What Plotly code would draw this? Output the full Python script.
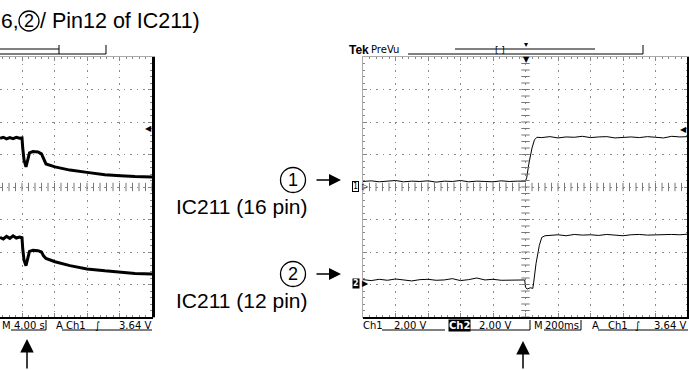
import plotly.graph_objects as go

W, H = 689, 370

# ---- data (scope divisions on y, time on x) ----
# left scope: 4.00 s/div, trigger drop near t = 0
left_t = [-2.7, -2.3, -1.9, -1.5, -1.1, -0.7, -0.3, 0.0, 0.09, 0.25, 0.49, 0.68, 0.92,
          1.35, 1.97, 2.4, 2.65, 2.95, 4.06, 5.9, 8.0, 10.2, 12.1, 13.9, 16.0]
left_ch1 = [1.5, 1.53, 1.48, 1.52, 1.49, 1.53, 1.5, 1.51, 1.2, 0.83, 0.62, 0.85, 1.05,
            1.09, 1.08, 1.02, 0.85, 0.71, 0.62, 0.52, 0.45, 0.38, 0.35, 0.32, 0.31]
left_ch2 = [-1.55, -1.6, -1.52, -1.58, -1.5, -1.57, -1.54, -1.56, -1.9, -2.25, -2.42, -2.2, -1.98,
            -1.95, -1.96, -2.0, -2.12, -2.2, -2.3, -2.42, -2.52, -2.58, -2.63, -2.66, -2.68]

# right scope: 200 ms/div, trigger at 0 ms
right_t1 = [-1000, -950, -900, -850, -800, -750, -700, -650, -600, -550, -500, -450, -400,
            -350, -300, -250, -200, -150, -100, -50, 0, 8, 20, 40, 55, 70, 100, 150, 200,
            250, 300, 350, 400, 450, 500, 550, 600, 650, 700, 750, 800, 850, 900, 950, 1000]
right_ch1 = [0.17, 0.19, 0.16, 0.18, 0.2, 0.16, 0.18, 0.17, 0.19, 0.15, 0.18, 0.17, 0.2,
             0.16, 0.18, 0.17, 0.16, 0.19, 0.17, 0.18, 0.18, 0.3, 0.7, 1.2, 1.45, 1.53, 1.52,
             1.55, 1.51, 1.54, 1.53, 1.56, 1.52, 1.54, 1.55, 1.51, 1.53, 1.54, 1.52, 1.55,
             1.53, 1.51, 1.56, 1.54, 1.55]
right_t2 = [-1000, -950, -900, -850, -800, -750, -700, -650, -600, -550, -500, -450, -400,
            -350, -300, -250, -200, -150, -100, -50, -5, 0, 10, 30, 45, 50, 65, 85, 100, 120,
            150, 200, 250, 300, 350, 400, 450, 500, 550, 600, 650, 700, 750, 800, 850, 900,
            950, 1000]
right_ch2 = [-2.85, -2.88, -2.84, -2.87, -2.83, -2.86, -2.89, -2.85, -2.84, -2.87, -2.86,
             -2.82, -2.88, -2.85, -2.8, -2.86, -2.84, -2.87, -2.86, -2.85, -2.86, -3.08, -3.14,
             -3.1, -3.12, -2.95, -2.35, -1.8, -1.55, -1.5, -1.49, -1.47, -1.5, -1.46, -1.48,
             -1.47, -1.49, -1.46, -1.48, -1.5, -1.47, -1.46, -1.48, -1.47, -1.45, -1.46,
             -1.47, -1.45]

left_status = ['M', '4.00 s', 'A', 'Ch1', '\u222b', '3.64 V']
right_status = ['Ch1', '2.00 V', 'Ch2', '2.00 V', 'M', '200ms', 'A', 'Ch1', '\u222b', '3.64 V']


def px(x):
    return x / W


def py(y):
    return 1 - y / H


fig = go.Figure()

fig.add_trace(go.Scatter(x=left_t, y=left_ch1, mode='lines', line=dict(color='black', width=3),
                         xaxis='x', yaxis='y'))
fig.add_trace(go.Scatter(x=left_t, y=left_ch2, mode='lines', line=dict(color='black', width=3),
                         xaxis='x', yaxis='y'))
fig.add_trace(go.Scatter(x=right_t1, y=right_ch1, mode='lines', line=dict(color='black', width=1),
                         xaxis='x2', yaxis='y2'))
fig.add_trace(go.Scatter(x=right_t2, y=right_ch2, mode='lines', line=dict(color='black', width=1),
                         xaxis='x2', yaxis='y2'))

# centre graticule ticks
fig.add_trace(go.Scatter(x=[-2.4 + 0.8 * i for i in range(24)], y=[0] * 24, mode='markers',
                         marker=dict(symbol='line-ns', size=6, line=dict(width=1, color='#777')),
                         xaxis='x', yaxis='y'))
fig.add_trace(go.Scatter(x=[-1000 + 40 * i for i in range(51)], y=[0] * 51, mode='markers',
                         marker=dict(symbol='line-ns', size=6, line=dict(width=1, color='#777')),
                         xaxis='x2', yaxis='y2'))
fig.add_trace(go.Scatter(x=[0] * 41, y=[-4 + 0.2 * i for i in range(41)], mode='markers',
                         marker=dict(symbol='line-ew', size=6, line=dict(width=1, color='#777')),
                         xaxis='x2', yaxis='y2'))

grid = dict(showgrid=True, gridcolor='#8a8a8a', griddash='1.5px,5px', gridwidth=1,
            zeroline=False, showticklabels=False, ticks='inside', ticklen=4, tickcolor='#888')
ydom = [py(317), py(57)]

fig.update_layout(
    width=W, height=H, margin=dict(l=0, r=0, t=0, b=0),
    paper_bgcolor='white', plot_bgcolor='white', showlegend=False,
    xaxis=dict(domain=[0, px(152)], range=[-2.708, 16], dtick=4, tick0=0, anchor='y',
               showline=True, linecolor='#aaa', mirror='ticks',
               minor=dict(ticks='inside', ticklen=2, dtick=0.8, tickcolor='#888', showgrid=False), **grid),
    yaxis=dict(domain=ydom, range=[-4, 4], dtick=1, anchor='x', side='right',
               showline=True, linecolor='black', linewidth=3,
               minor=dict(ticks='inside', ticklen=2, dtick=0.2, tickcolor='#888', showgrid=False), **grid),
    xaxis2=dict(domain=[px(363), px(688)], range=[-1000, 1000], dtick=200, anchor='y2',
                showline=True, linecolor='#aaa', mirror='ticks',
                minor=dict(ticks='inside', ticklen=2, dtick=40, tickcolor='#888', showgrid=False), **grid),
    yaxis2=dict(domain=ydom, range=[-4, 4], dtick=1, anchor='x2',
                showline=True, linecolor='#aaa', mirror='ticks',
                minor=dict(ticks='inside', ticklen=2, dtick=0.2, tickcolor='#888', showgrid=False), **grid),
)

shapes = []


def seg(x0, y0, x1, y1, w=1, color='black'):
    shapes.append(dict(type='line', xref='paper', yref='paper', x0=px(x0), y0=py(y0),
                       x1=px(x1), y1=py(y1), line=dict(color=color, width=w)))


def circ(cx, cy, r):
    shapes.append(dict(type='circle', xref='paper', yref='paper', x0=px(cx - r), x1=px(cx + r),
                       y0=py(cy + r), y1=py(cy - r), line=dict(color='black', width=1.3)))


# scope borders
seg(0, 318, 153, 318, 2)
seg(363, 318, 689, 318, 2)
seg(688, 57, 688, 318, 2)

# top bars
seg(0, 49, 59, 49)
seg(59, 45, 59, 54)
seg(0, 54, 106, 54)
seg(106, 45, 106, 54)
seg(408, 54, 643, 54)
seg(643, 45, 643, 54)
seg(455, 49, 595, 49)

# status underlines
seg(11, 330, 46, 330)
seg(46, 320, 46, 330)
seg(62, 330, 152, 330)
seg(382, 330, 445, 330)
seg(468, 330, 530, 330)
seg(530, 320, 530, 330)
seg(544, 330, 581, 330)
seg(581, 320, 581, 330)
seg(598, 330, 688, 330)

circ(29, 21, 10)
circ(293, 180, 12.5)
circ(293, 274, 12.5)

fig.update_layout(shapes=shapes)

SANS = 'Liberation Sans, Arial, sans-serif'
SCOPE = 'DejaVu Sans, sans-serif'


def txt(x, y, s, size, anchor='left', family=SANS, color='black', **kw):
    fig.add_annotation(x=px(x), y=py(y), xref='paper', yref='paper', text=s, showarrow=False,
                       xanchor=anchor, yanchor='middle', font=dict(family=family, size=size, color=color),
                       borderpad=0, **kw)


def arrow(x, y, ax, ay, size=1.6, width=1.5):
    fig.add_annotation(x=px(x), y=py(y), xref='paper', yref='paper', text='', showarrow=True,
                       ax=ax, ay=ay, arrowhead=2, arrowsize=size, arrowwidth=width, arrowcolor='black')


# title
txt(0, 21, '6,', 21)
txt(29, 21, '2', 18, anchor='center')
txt(39, 21, '/ Pin12 of IC211)', 21.5)

# middle labels
txt(293, 180, '1', 18, anchor='center')
txt(293, 274, '2', 18, anchor='center')
arrow(341, 180, -26, 0)
arrow(341, 274, -26, 0)
txt(175, 206, 'IC211 (16 pin)', 21)
txt(175, 300, 'IC211 (12 pin)', 21)

# bottom arrows
arrow(27, 339, 0, 32, size=1.8)
arrow(523, 341, 0, 30, size=1.8)

# Tek header
txt(348, 50, '<b>Tek</b>', 12)
txt(370, 50, 'PreVu', 10, family=SCOPE)
txt(500, 50, '[ ]', 9, anchor='center', family=SCOPE)
txt(526, 45, '\u25be', 8, anchor='center', family=SCOPE)
txt(526, 59, '\u25bc', 8, anchor='center', family=SCOPE)

# trigger level markers
txt(148, 128, '\u25c0', 8, anchor='center', family=SCOPE)
txt(683, 129, '\u25c0', 8, anchor='center', family=SCOPE)

# channel markers
txt(352, 186, '1', 8, anchor='left', family=SCOPE, bgcolor='white', bordercolor='black', borderwidth=1)
txt(361, 186, '\u25b7', 8, anchor='left', family=SCOPE)
txt(352, 283, '<b>2</b>', 8, anchor='left', family=SCOPE, color='white', bgcolor='black')
txt(361, 283, '\u25b6', 8, anchor='left', family=SCOPE)

# status bars
for x, s in zip([1, 13, 55, 65, 94], left_status[:5]):
    txt(x, 325, s, 10, family=SCOPE)
txt(152, 325, left_status[5], 10, anchor='right', family=SCOPE)

for x, s in zip([362, 393, 448, 478, 533, 544, 591, 607, 634], right_status[:9]):
    if s == 'Ch2':
        txt(x, 325, '<b>' + s + '</b>', 10, family=SCOPE, color='white', bgcolor='black')
    else:
        txt(x, 325, s, 10, family=SCOPE)
txt(687, 325, right_status[9], 10, anchor='right', family=SCOPE)

fig.write_html("out.html", config={'displayModeBar': False},
               post_script="document.body.style.margin='0';")
